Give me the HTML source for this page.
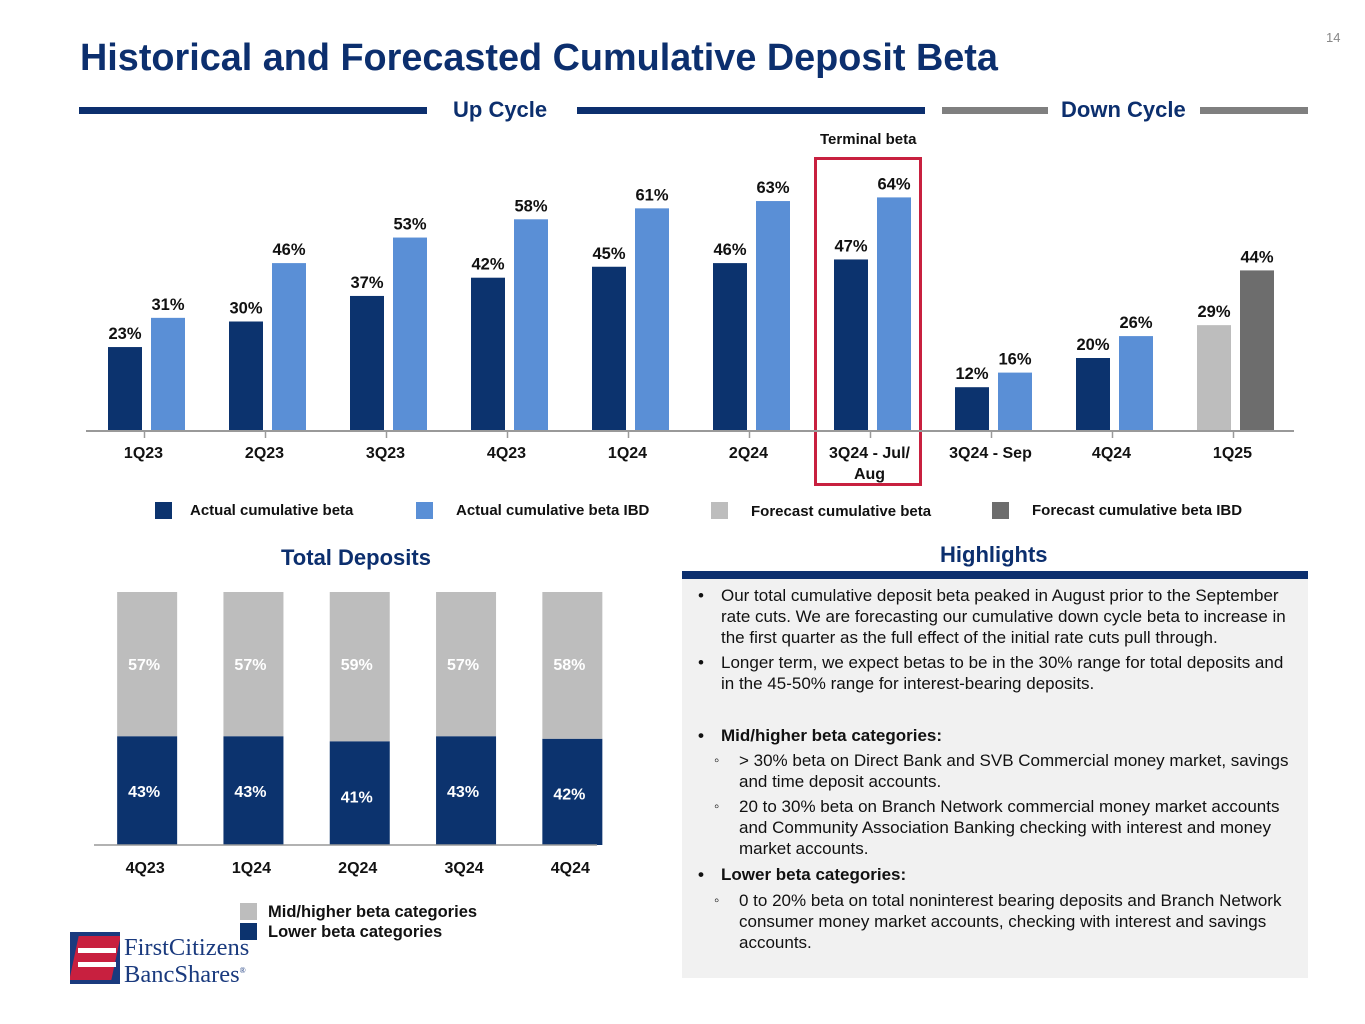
<!DOCTYPE html>
<html><head><meta charset="utf-8"><style>
body{margin:0;width:1365px;height:1024px;position:relative;background:#fff;font-family:"Liberation Sans",Arial,sans-serif;overflow:hidden}
.a{position:absolute}
.t{position:absolute;font-size:17px;color:#111;line-height:21px}
.b{font-weight:bold}
.sb{position:absolute;font-size:15px;color:#111;line-height:21px}
</style></head><body>
<div class="a b" style="left:80px;top:37px;font-size:37.8px;color:#0c2f6e">Historical and Forecasted Cumulative Deposit Beta</div>
<div class="a" style="left:1326px;top:30px;font-size:13px;color:#888">14</div>
<div class="a" style="left:79px;top:107px;width:348px;height:7px;background:#0c2f6e"></div>
<div class="a b" style="left:453px;top:97px;font-size:22px;color:#0c2f6e">Up Cycle</div>
<div class="a" style="left:577px;top:107px;width:348px;height:7px;background:#0c2f6e"></div>
<div class="a" style="left:942px;top:107px;width:106px;height:7px;background:#7f7f7f"></div>
<div class="a b" style="left:1061px;top:97px;font-size:22px;color:#0c2f6e">Down Cycle</div>
<div class="a" style="left:1200px;top:107px;width:108px;height:7px;background:#7f7f7f"></div>
<div class="a b" style="left:820px;top:131px;font-size:15px;color:#111">Terminal beta</div>
<div class="a" style="left:814px;top:157px;width:108px;height:329px;border:3px solid #c8203f;box-sizing:border-box"></div>
<svg class="a" style="left:0;top:0" width="1365" height="1024" id="svg"></svg>

<div class="a" style="left:155px;top:502px;width:17px;height:17px;background:#0c336e"></div>
<div class="t b" style="left:190px;top:500px;font-size:15px">Actual cumulative beta</div>
<div class="a" style="left:416px;top:502px;width:17px;height:17px;background:#5a8fd6"></div>
<div class="t b" style="left:456px;top:500px;font-size:15px">Actual cumulative beta IBD</div>
<div class="a" style="left:711px;top:502px;width:17px;height:17px;background:#bdbdbd"></div>
<div class="t b" style="left:751px;top:501px;font-size:15px">Forecast cumulative beta</div>
<div class="a" style="left:992px;top:502px;width:17px;height:17px;background:#6d6d6d"></div>
<div class="t b" style="left:1032px;top:500px;font-size:15px">Forecast cumulative beta IBD</div>

<div class="a b" style="left:281px;top:545px;font-size:22px;color:#0c2f6e">Total Deposits</div>
<div class="a" style="left:240px;top:903px;width:17px;height:17px;background:#bdbdbd"></div>
<div class="t b" style="left:268px;top:902px;font-size:16.5px">Mid/higher beta categories</div>
<div class="a" style="left:240px;top:923px;width:17px;height:17px;background:#0c336e"></div>
<div class="t b" style="left:268px;top:922px;font-size:16.5px">Lower beta categories</div>

<div class="a" style="left:70px;top:932px;width:50px;height:52px;background:#1a3a7e;overflow:hidden">
<div class="a" style="left:4px;top:4px;width:42px;height:44px;background:#c8203f;transform:skewX(-12deg)"></div>
<div class="a" style="left:8px;top:16px;width:38px;height:5px;background:#fff"></div>
<div class="a" style="left:8px;top:30px;width:38px;height:5px;background:#fff"></div>
</div>
<div class="a" style="left:124px;top:936px;font-family:'Liberation Serif',serif;font-size:24.5px;line-height:23px;color:#1a3a7e">FirstCitizens<br>BancShares<sup style="font-size:8px">®</sup></div>

<div class="a b" style="left:940px;top:542px;font-size:22px;color:#0c2f6e">Highlights</div>
<div class="a" style="left:682px;top:571px;width:626px;height:8px;background:#0c2f6e"></div>
<div class="a" style="left:682px;top:579px;width:626px;height:399px;background:#f1f1f1"></div>
<div class="t" style="left:698px;top:585px">•</div>
<div class="t" style="left:721px;top:585px;width:572px">Our total cumulative deposit beta peaked in August prior to the September rate cuts. We are forecasting our cumulative down cycle beta to increase in the first quarter as the full effect of the initial rate cuts pull through.</div>
<div class="t" style="left:698px;top:652px">•</div>
<div class="t" style="left:721px;top:652px;width:572px">Longer term, we expect betas to be in the 30% range for total deposits and in the 45-50% range for interest-bearing deposits.</div>
<div class="t b" style="left:698px;top:725px">•</div>
<div class="t b" style="left:721px;top:725px">Mid/higher beta categories:</div>
<div class="sb" style="left:714px;top:750px">◦</div>
<div class="t" style="left:739px;top:750px;width:560px">&gt; 30% beta on Direct Bank and SVB Commercial money market, savings and time deposit accounts.</div>
<div class="sb" style="left:714px;top:796px">◦</div>
<div class="t" style="left:739px;top:796px;width:555px">20 to 30% beta on Branch Network commercial money market accounts and Community Association Banking checking with interest and money market accounts.</div>
<div class="t b" style="left:698px;top:864px">•</div>
<div class="t b" style="left:721px;top:864px">Lower beta categories:</div>
<div class="sb" style="left:714px;top:890px">◦</div>
<div class="t" style="left:739px;top:890px;width:555px">0 to 20% beta on total noninterest bearing deposits and Branch Network consumer money market accounts, checking with interest and savings accounts.</div>

<script>
const categories=["1Q23","2Q23","3Q23","4Q23","1Q24","2Q24","3Q24 - Jul/\nAug","3Q24 - Sep","4Q24","1Q25"];
const betaTotal=[23,30,37,42,45,46,47,12,20,29];
const betaIBD=[31,46,53,58,61,63,64,16,26,44];
const isForecast=[false,false,false,false,false,false,false,false,false,true];
const depQuarters=["4Q23","1Q24","2Q24","3Q24","4Q24"];
const depLower=[43,43,41,43,42];
const depMid=[57,57,59,57,58];

const NS="http://www.w3.org/2000/svg";
const svg=document.getElementById('svg');
function mk(tag,attrs,text){const e=document.createElementNS(NS,tag);for(const k in attrs)e.setAttribute(k,attrs[k]);if(text!==undefined)e.textContent=text;svg.appendChild(e);return e;}
const x0=86,bw=121,base=431,ppu=3.65;
const xc=i=>x0+bw*(i+0.5);
const yv=v=>base-v*ppu;
categories.forEach((c,i)=>{
  const cx=xc(i);
  const r1=mk('rect',{x:cx-38.5,y:yv(betaTotal[i]),width:34,height:betaTotal[i]*ppu,fill:isForecast[i]?'#bdbdbd':'#0c336e'});
  
  
  const r2=mk('rect',{x:cx+4.5,y:yv(betaIBD[i]),width:34,height:betaIBD[i]*ppu,fill:isForecast[i]?'#6d6d6d':'#5a8fd6'});
  
  
  const l1=mk('text',{x:cx-21.5,y:yv(betaTotal[i])-8,'text-anchor':'middle','font-size':16.5,'font-weight':'bold',fill:'#111'},betaTotal[i]+'%');
  
  
  const l2=mk('text',{x:cx+21.5,y:yv(betaIBD[i])-8,'text-anchor':'middle','font-size':16.5,'font-weight':'bold',fill:'#111'},betaIBD[i]+'%');
  
  
  mk('line',{x1:cx-2,x2:cx-2,y1:base,y2:base+7,stroke:'#999','stroke-width':1.5});
  c.split('\n').forEach((s,j)=>{
    const t=mk('text',{x:cx-3,y:458+j*21,'text-anchor':'middle','font-size':16,'font-weight':'bold',fill:'#111'},s);
    
    
  });
});
const ax=mk('line',{x1:x0,x2:1294,y1:base,y2:base,stroke:'#999','stroke-width':2});


const bx0=94,bstep=106.3,bbase=845,bppu=2.53;
depQuarters.forEach((q,i)=>{
  const cx=bx0+bstep*(i+0.5);
  const hL=depLower[i]*bppu,hM=depMid[i]*bppu;
  const r1=mk('rect',{x:cx-30,y:bbase-hL,width:60,height:hL,fill:'#0c336e'});
  
  
  const r2=mk('rect',{x:cx-30,y:bbase-hL-hM,width:60,height:hM,fill:'#bdbdbd'});
  
  
  const t1=mk('text',{x:cx-3,y:bbase-hL+61,'text-anchor':'middle','font-size':16,'font-weight':'bold',fill:'#fff'},depLower[i]+'%');
  
  
  const t2=mk('text',{x:cx-3,y:bbase-hL-hM+78,'text-anchor':'middle','font-size':16,'font-weight':'bold',fill:'#fff'},depMid[i]+'%');
  
  
  const t3=mk('text',{x:cx-2,y:873,'text-anchor':'middle','font-size':16,'font-weight':'bold',fill:'#111'},q);
  
  
});
const ax2=mk('line',{x1:bx0,x2:597,y1:bbase,y2:bbase,stroke:'#999','stroke-width':1.5});


</script>
</body></html>
